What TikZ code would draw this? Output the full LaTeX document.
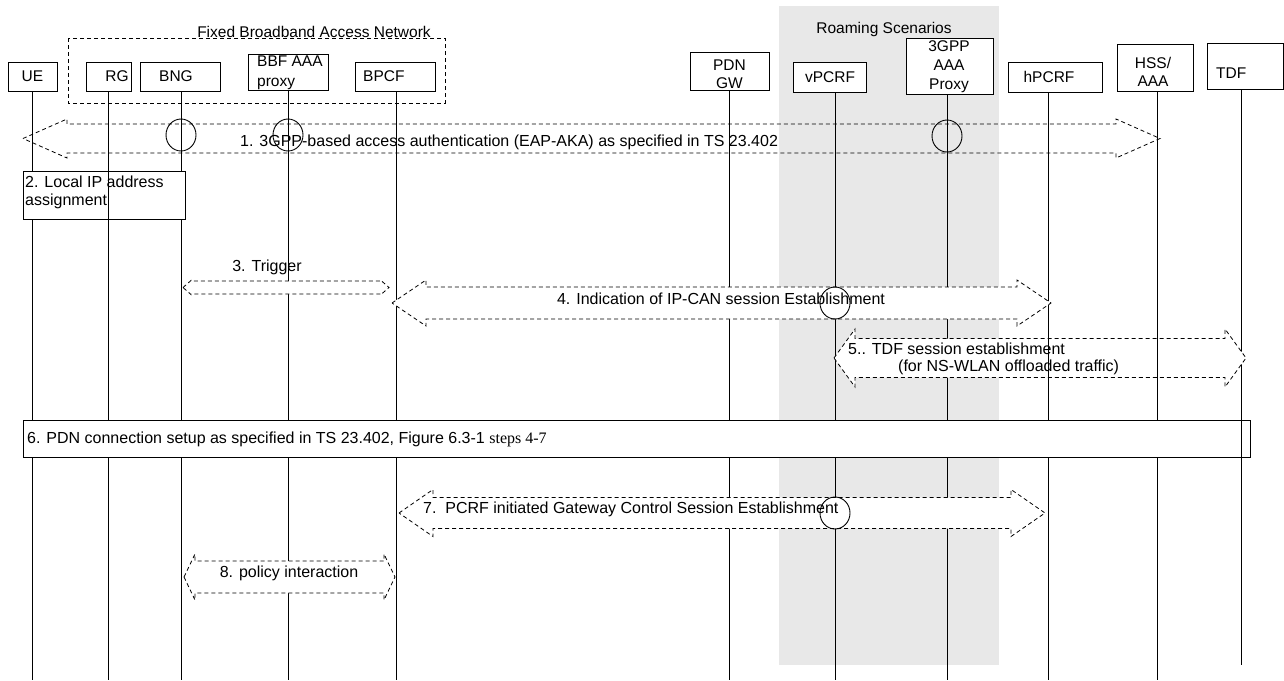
\documentclass[tikz,border=0pt]{standalone}
\usepackage{fontspec}
\setmainfont{Liberation Sans}
\newfontfamily\serifpart{Liberation Serif}
\newcommand\msgfont{\fontsize{16}{18}\selectfont}
\newcommand\hdrfont{\fontsize{15.5}{19}\selectfont}
\definecolor{roam}{RGB}{232,232,232}
\tikzset{
  hbox/.style={draw, fill=white, line width=0.9pt, inner sep=0pt},
  htxt/.style={inner sep=0pt, font=\hdrfont},
  mtxt/.style={inner sep=0pt, font=\msgfont},
  life/.style={line width=0.8pt},
  darr/.style={dash pattern=on 4pt off 3pt, line width=0.8pt, line join=miter},
  ring/.style={line width=0.9pt, x radius=15pt, y radius=16pt},
}
% block double arrow: #1 style, #2 left tip x, #3 right tip x, #4 mid y, #5 half shaft, #6 half head, #7 head length
\newcommand\blockarrow[7]{%
  \draw[#1] (#2,#4) -- ({#2+#7},{#4-#6}) -- ({#2+#7},{#4-#5}) -- ({#3-#7},{#4-#5})
    -- ({#3-#7},{#4-#6}) -- (#3,#4) -- ({#3-#7},{#4+#6}) -- ({#3-#7},{#4+#5})
    -- ({#2+#7},{#4+#5}) -- ({#2+#7},{#4+#6}) -- cycle;}
\begin{document}
\begin{tikzpicture}[x=1pt, y=-1pt]
\useasboundingbox[fill=white] (0,0) rectangle (1284,680);

% roaming background
\fill[roam] (779,6) rectangle (999,665);
\node[htxt] (roamlbl) at (884,29) {Roaming Scenarios};

% fixed broadband access network group
\draw[dash pattern=on 4pt off 3pt, line width=0.9pt] (68,38) rectangle (445,103);
\node[htxt, anchor=base] (fbanlbl) at (314,37) {Fixed Broadband Access Network};

% header boxes
\node[hbox, minimum width=49pt, minimum height=29pt] (UE) at (32.5,76.5) {};
\node[htxt] (UEt) at (32.5,76.5) {UE};
\node[hbox, minimum width=45pt, minimum height=29pt] (RG) at (108.5,76.5) {};
\node[htxt] (RGt) at (117,76.5) {RG};
\node[hbox, minimum width=80pt, minimum height=29pt] (BNG) at (180,76.5) {};
\node[htxt] (BNGt) at (176,76.5) {BNG};
\node[hbox, minimum width=80pt, minimum height=36pt] (BBF) at (288,72) {};
\node[htxt, anchor=west, align=left, font=\fontsize{15.5}{20}\selectfont] (BBFt) at (257,73) {BBF AAA\\proxy};
\node[hbox, minimum width=80pt, minimum height=29pt] (BPCF) at (395,76.5) {};
\node[htxt, anchor=west] (BPCFt) at (363,76.5) {BPCF};
\node[hbox, minimum width=79pt, minimum height=38pt] (PDN) at (729.5,71) {};
\node[htxt, align=center, font=\fontsize{15.5}{18}\selectfont] (PDNt) at (729.5,74) {PDN\\GW};
\node[hbox, minimum width=73pt, minimum height=30pt] (vP) at (829.5,77) {};
\node[htxt] (vPt) at (830,77) {vPCRF};
\node[hbox, minimum width=87pt, minimum height=56pt] (AAAP) at (949.5,66) {};
\node[htxt, align=center, font=\fontsize{15.5}{19}\selectfont] (AAAPt) at (949,66.5) {3GPP\\AAA\\Proxy};
\node[hbox, minimum width=94pt, minimum height=30pt] (hP) at (1055,77) {};
\node[htxt] (hPt) at (1049,77) {hPCRF};
\node[hbox, minimum width=76pt, minimum height=47pt] (HSS) at (1155,67.5) {};
\node[htxt, align=center, font=\fontsize{15.5}{18}\selectfont] (HSSt) at (1153,71.5) {HSS/\\AAA};
\node[hbox, minimum width=76pt, minimum height=46pt] (TDF) at (1245,66) {};
\node[htxt, anchor=west] (TDFt) at (1216,73) {TDF};

% lifeline end points
\coordinate (ue-t) at (32,91);    \coordinate (ue-b) at (32,680);
\coordinate (rg-t) at (108,91);   \coordinate (rg-b) at (108,680);
\coordinate (bng-t) at (181,91);  \coordinate (bng-b) at (181,680);
\coordinate (bbf-t) at (288,90);  \coordinate (bbf-b) at (288,680);
\coordinate (bpcf-t) at (396,91); \coordinate (bpcf-b) at (396,680);
\coordinate (pdn-t) at (729,90);  \coordinate (pdn-b) at (729,680);
\coordinate (vp-t) at (835,92);   \coordinate (vp-b) at (835,680);
\coordinate (aaap-t) at (947,94); \coordinate (aaap-b) at (947,680);
\coordinate (hp-t) at (1048,92);  \coordinate (hp-b) at (1048,680);
\coordinate (hss-t) at (1157,91); \coordinate (hss-b) at (1157,680);
\coordinate (tdf-t) at (1241,89); \coordinate (tdf-b) at (1241,665);

\foreach \n in {ue,rg,bng,bbf,bpcf,pdn,vp,aaap,hp,hss,tdf}
  \draw[life] (\n-t) -- (\n-b);

% 1. access authentication
\blockarrow{darr}{23}{1160}{138.5}{14.5}{19.5}{44}
\node[mtxt, anchor=west] (m1) at (240,142) {1. 3GPP-based access authentication (EAP-AKA) as specified in TS 23.402};
\draw[ring] (181,135) ellipse [];
\draw[ring] (288,135) ellipse [];
\draw[ring] (947,136) ellipse [];

% 2. local IP address assignment
\node[hbox, minimum width=162pt, minimum height=48pt] (m2) at (104,195) {};
\draw[life] (rg-t |- m2.north) -- (rg-t |- m2.south);
\node[mtxt, anchor=west, align=left] (m2t) at (25,192.5) {2. Local IP address\\assignment};

% 3. trigger
\blockarrow{darr, fill=white}{183}{389}{287.5}{6.5}{7}{8}
\node[mtxt] (m3) at (267,267) {3. Trigger};

% 4. IP-CAN session establishment
\blockarrow{darr, fill=white}{392}{1051}{303}{16}{23}{34}
\node[mtxt] (m4) at (721,298.5) {4. Indication of IP-CAN session Establishment};
\draw[ring] (835,303) ellipse [];

% 5. TDF session establishment
\blockarrow{darr, fill=white}{834}{1246}{358}{19.5}{29}{21}
\draw[life] (hp-t |- 0,329) -- (hp-t |- 0,388);
\draw[life] (hss-t |- 0,329) -- (hss-t |- 0,388);
\node[mtxt, anchor=west] (m5a) at (848,349) {5.. TDF session establishment};
\node[mtxt, anchor=west] (m5b) at (898,367.5) {(for NS-WLAN offloaded traffic)};

% 6. PDN connection setup
\node[hbox, minimum width=1227pt, minimum height=37pt] (m6) at (636.5,438.5) {};
\draw[life] (tdf-t |- m6.north) -- (tdf-t |- m6.south);
\node[mtxt, anchor=west] (m6t) at (27,439) {6. PDN connection setup as specified in TS 23.402, Figure 6.3-1 {\serifpart steps 4-7}};

% 7. gateway control session establishment
\blockarrow{darr, fill=white}{399}{1045}{513}{15.5}{23.5}{34}
\node[mtxt, anchor=west] (m7) at (423,509) {7.\ \ PCRF initiated Gateway Control Session Establishment};
\draw[ring] (835,513) ellipse [];

% 8. policy interaction
\blockarrow{darr, fill=white}{184}{395}{577}{16}{23}{11}
\node[mtxt] (m8) at (289,573) {8. policy interaction};
\end{tikzpicture}
\end{document}
